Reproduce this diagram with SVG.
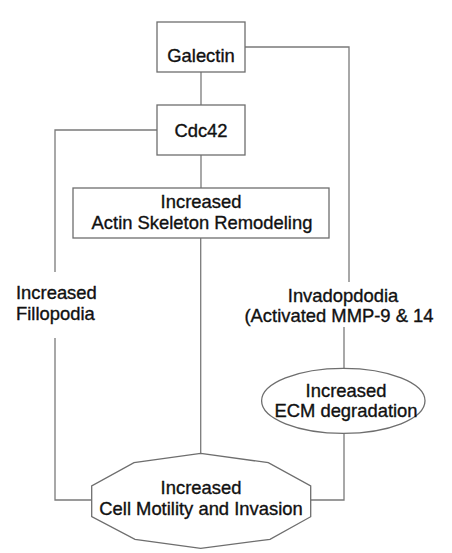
<svg xmlns="http://www.w3.org/2000/svg" width="452" height="553" viewBox="0 0 452 553">
<style>
.n{fill:#fff;stroke:#6e6e6e;stroke-width:1.3}
.c{fill:none;stroke:#7a7a7a;stroke-width:1.3}
text{font-family:"Liberation Sans",Arial,sans-serif;font-size:18.4px;fill:#111;stroke:#111;stroke-width:0.35;text-anchor:middle}
</style>
<rect width="452" height="553" fill="#fff"/>
<g id="connectors">
<path class="c" d="M245,47 H349 V282"/>
<path class="c" d="M344,327 V368"/>
<path class="c" d="M344,433 V500 H310.7"/>
<path class="c" d="M201,72 V105"/>
<path class="c" d="M201,155 V188"/>
<path class="c" d="M200.7,238 V453"/>
<path class="c" d="M157,130 H55 V272"/>
<path class="c" d="M55,338 V500 H91.7"/>
</g>
<g id="galectin"><rect class="n" x="157" y="22" width="88" height="50"/><text x="201" y="62">Galectin</text></g>
<g id="cdc42"><rect class="n" x="157" y="105" width="88" height="50"/><text x="201" y="137">Cdc42</text></g>
<g id="actin"><rect class="n" x="73" y="188" width="256" height="50"/><text x="201" y="208">Increased</text><text x="202" y="229">Actin Skeleton Remodeling</text></g>
<g id="fillopodia"><text x="16" y="299" style="text-anchor:start">Increased</text><text x="16" y="320" style="text-anchor:start">Fillopodia</text></g>
<g id="invadopodia"><text x="343" y="302">Invadopdodia</text><text x="339" y="322">(Activated MMP-9 &amp; 14</text></g>
<g id="ecm"><ellipse class="n" cx="343.3" cy="400.8" rx="81.7" ry="32.5"/><text x="346" y="397">Increased</text><text x="346" y="417">ECM degradation</text></g>
<g id="motility"><polygon class="n" points="200.7,453.3 268.3,462.7 310.7,486 310.7,516.7 270,539.3 200.7,548.3 135,539.3 91.7,516.7 91.7,486 134,462.7"/><text x="201" y="494">Increased</text><text x="201" y="515">Cell Motility and Invasion</text></g>
</svg>
